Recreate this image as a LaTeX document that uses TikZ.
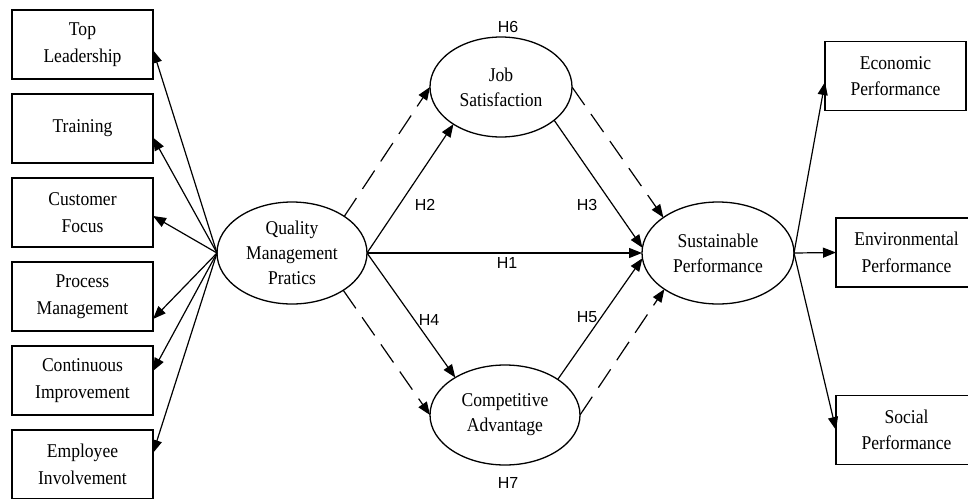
\documentclass[tikz,border=0pt]{standalone}
\usepackage{fontspec}
\setmainfont{Liberation Serif}[FakeStretch=0.9]
\newfontfamily\hfont{Liberation Sans}
\usetikzlibrary{shapes}
\usetikzlibrary{arrows.meta}

\tikzset{
    item/.style={draw, line width=1.3pt, minimum width=141pt, minimum height=69pt,
        inner sep=0pt, outer sep=0pt, align=center, font=\fontsize{19.5}{26.5}\selectfont},
    latent/.style={draw, ellipse, line width=1.3pt, inner sep=0pt, outer sep=0pt,
        align=center, font=\fontsize{19.5}{25}\selectfont},
    hyp/.style={font=\hfont\fontsize{16}{18}\selectfont},
    path/.style={line width=1.2pt, -{Triangle[length=13pt,width=10pt]}},
    med/.style={path, dash pattern=on 22pt off 11pt}
}

\begin{document}
\begin{tikzpicture}[x=1pt,y=-1pt]
    \useasboundingbox (0,0) rectangle (968,498);

    % latent constructs
    \node[latent, minimum width=150pt, minimum height=102pt] (qmp) at (292,253) {Quality\\Management\\Pratics};
    \node[latent, minimum width=142pt, minimum height=100pt] (js) at (501,87) {Job\\Satisfaction};
    \node[latent, minimum width=150pt, minimum height=100pt] (ca) at (505,415) {Competitive\\Advantage};
    \node[latent, minimum width=152pt, minimum height=102pt] (sp) at (718,253) {Sustainable\\Performance};

    % dimensions of quality management
    \foreach \name/\txt/\i/\dy in {tl/Top\\Leadership/0/-5.5, tr/Training/1/-9,
        cf/Customer\\Focus/2/-3.5, pm/Process\\Management/3/-22.5,
        ci/Continuous\\Improvement/4/9.5, ei/Employee\\Involvement/5/11.5}
    {
        \node[item] (\name) at (82.5,44.5+84*\i) {\txt};
        \draw[path] (qmp.west) -- ([yshift=\dy pt]\name.east);
    }

    % dimensions of sustainable performance
    \node[item] (ep) at (895.5,76) {Economic\\Performance};
    \node[item] (vp) at (906.5,252.5) {Environmental\\Performance};
    \node[item] (so) at (906.5,430) {Social\\Performance};
    \draw[path] (sp.east) -- ([yshift=-6pt]ep.west);
    \draw[path] (sp.east) -- (vp.west);
    \draw[path] (sp.east) -- (so.west);

    % direct paths
    \draw[path] (qmp.east) -- (js.218);
    \draw[path] (qmp.east) -- (sp.west);
    \draw[path] (qmp.east) -- (ca.143);
    \draw[path] (js.-32) -- (sp.176);
    \draw[path] (ca.34) -- (sp.184);

    % mediation paths
    \draw[med] (qmp.35) -- (js.west);
    \draw[med] (js.east) -- (sp.147);
    \draw[med] (qmp.-36) -- (ca.west);
    \draw[med] (ca.east) -- (sp.214);

    % hypotheses
    \node[hyp] (h1) at (507,263) {H1};
    \node[hyp] (h2) at (425,205) {H2};
    \node[hyp] (h3) at (587,205) {H3};
    \node[hyp] (h4) at (429,320) {H4};
    \node[hyp] (h5) at (587,317) {H5};
    \node[hyp] (h6) at (508,27) {H6};
    \node[hyp] (h7) at (508,483) {H7};
\end{tikzpicture}
\end{document}
